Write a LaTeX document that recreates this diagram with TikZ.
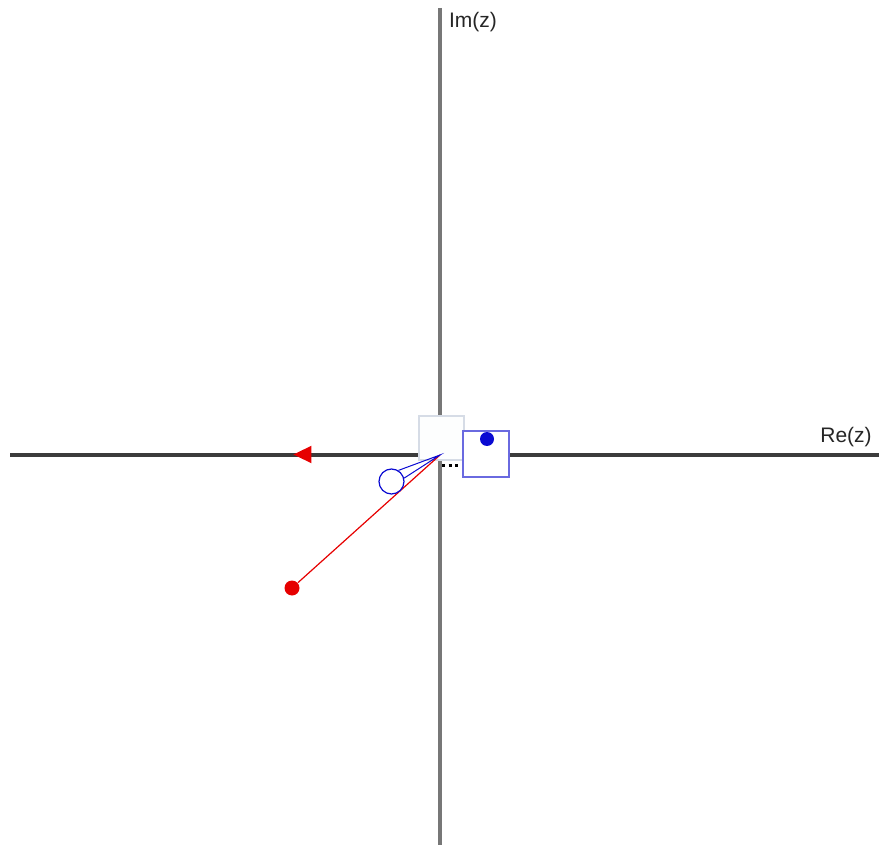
\documentclass[tikz,border=0pt]{standalone}
\usepackage{fontspec}
\setmainfont{Liberation Sans}
\usetikzlibrary{arrows.meta, positioning, shapes.geometric, calc}
\definecolor{cdark}{HTML}{3C3C3C}
\definecolor{cgrey}{HTML}{777777}
\definecolor{cred}{HTML}{E60000}
\definecolor{cblue}{HTML}{0A0AD2}
\definecolor{clblue}{HTML}{6A6AE0}
\definecolor{cpale}{HTML}{D6DCE6}
\tikzset{
  every picture/.style={line width=1.2pt},
  haxis/.style={draw=cdark, line width=3.5pt},
  vaxis/.style={draw=cgrey, line width=3.5pt},
  lbl/.style={font=\fontsize{21}{25}\selectfont, text=black!85, inner sep=0pt},
  dot/.style={circle, fill=#1, inner sep=0pt, minimum size=15pt},
  dot/.default=cred,
  frame/.style={draw=#1, fill=white, inner sep=0pt, line width=1.3pt},
  zline/.style={draw=cred, line width=1.2pt},
  wline/.style={draw=cblue, line width=1pt},
}

\begin{document}
\begin{tikzpicture}[x=1pt, y=-1pt]
  \useasboundingbox (0,0) rectangle (879,845);

  % axes
  \coordinate (O) at (440,455);
  \coordinate (xl) at (10,455);
  \coordinate (xr) at (879,455);
  \coordinate (yt) at (440,8);
  \coordinate (yb) at (440,845);
  \draw[vaxis] (yt) -- (yb);
  \draw[haxis] (xl) -- (xr);
  \node[lbl] (im) at (473,22) {Im(z)};
  \node[lbl] (re) at (846,437) {Re(z)};

  % direction on the real axis
  \node[isosceles triangle, isosceles triangle apex angle=52, shape border rotate=180,
        fill=cred, inner sep=0pt, minimum height=18pt] (head) at (306,454.5) {};

  % boxes at the origin
  \node[frame=cpale, fill=white!96!cpale, minimum width=45pt, minimum height=44pt] (hold) at (441.5,438) {};
  \node[frame=clblue, minimum size=46pt] (zbox) at (486,454) {};
  \node[dot=cblue, minimum size=14pt] (bdot) at (487,439) {};
  \coordinate (d1) at (442,465.5);
  \coordinate (d2) at (461,465.5);
  \draw[black, line width=3.5pt, dash pattern=on 3pt off 3.5pt] (d1) -- (d2);

  % red point
  \node[dot] (rdot) at (292,588) {};
  \draw[zline] (rdot) -- (O);

  % blue pin
  \node[circle, draw=cblue, fill=white, inner sep=0pt, minimum size=25pt] (pin) at (391.5,481.5) {};
  \draw[wline] (pin.58) -- (O) -- (pin.15);
\end{tikzpicture}
\end{document}
